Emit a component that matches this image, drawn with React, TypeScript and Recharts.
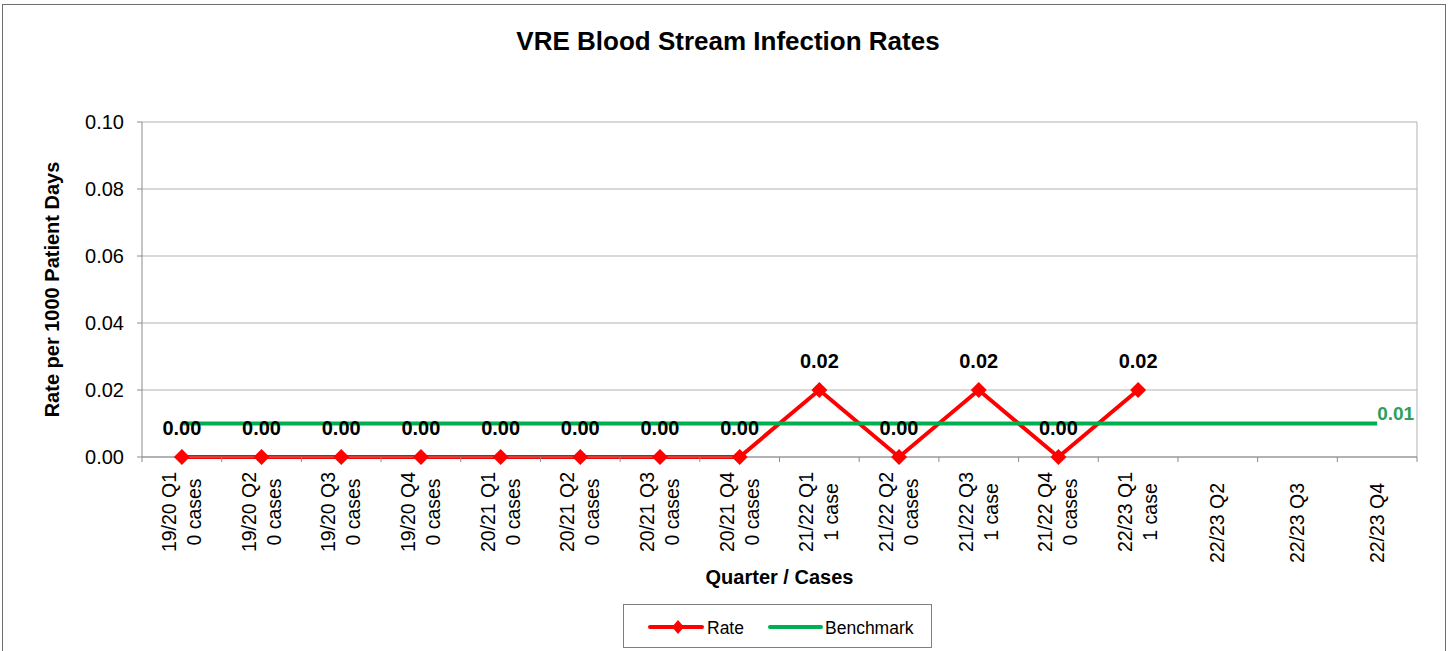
import React from "react";
import { LineChart, Line, XAxis, YAxis, CartesianGrid, Legend, LabelList, Label } from "recharts";

const FONT = '"Liberation Sans", Arial, sans-serif';

const quarters = [
  "19/20 Q1", "19/20 Q2", "19/20 Q3", "19/20 Q4",
  "20/21 Q1", "20/21 Q2", "20/21 Q3", "20/21 Q4",
  "21/22 Q1", "21/22 Q2", "21/22 Q3", "21/22 Q4",
  "22/23 Q1", "22/23 Q2", "22/23 Q3", "22/23 Q4",
];
const caseNotes = [
  "0 cases", "0 cases", "0 cases", "0 cases",
  "0 cases", "0 cases", "0 cases", "0 cases",
  "1 case", "0 cases", "1 case", "0 cases",
  "1 case", "", "", "",
];
const rateValues = [0, 0, 0, 0, 0, 0, 0, 0, 0.02, 0, 0.02, 0, 0.02, null, null, null];
const benchmarkValues = [0.01, 0.01, 0.01, 0.01, 0.01, 0.01, 0.01, 0.01, 0.01, 0.01, 0.01, 0.01, 0.01, 0.01, 0.01, 0.01];
const yTicks = [0, 0.02, 0.04, 0.06, 0.08, 0.1];

const data = quarters.map((q, i) => ({
  quarter: q,
  cases: caseNotes[i],
  rate: rateValues[i],
  benchmark: benchmarkValues[i],
}));

const RED = "#ff0000";
const GREEN = "#00b050";
const AXIS = "#8c8c8c";
const HALF_BAND = (1417 - 142) / quarters.length / 2;

const QuarterTick = (props: any) => {
  const { x, y, payload, index } = props;
  const note = caseNotes[index];
  return (
    <g>
      <line x1={x - HALF_BAND} x2={x - HALF_BAND} y1={y} y2={y + 5} stroke={AXIS} />
      {index === quarters.length - 1 && (
        <line x1={x + HALF_BAND} x2={x + HALF_BAND} y1={y} y2={y + 5} stroke={AXIS} />
      )}
      <text
        transform={`translate(${x},${y + (note ? 55 : 66)}) rotate(-90)`}
        textAnchor="middle"
        fontSize={19.5}
        fill="#000"
        fontFamily={FONT}
      >
        {note ? (
          <>
            <tspan x={0} y={-6}>{payload.value}</tspan>
            <tspan x={0} y={19}>{note}</tspan>
          </>
        ) : (
          <tspan x={0} y={6.5}>{payload.value}</tspan>
        )}
      </text>
    </g>
  );
};

const diamondDot = (props: any) => {
  const { cx, cy, index } = props;
  if (cx == null || cy == null) return <g key={index} />;
  const r = 8;
  return (
    <polygon
      key={index}
      points={`${cx},${cy - r} ${cx + r},${cy} ${cx},${cy + r} ${cx - r},${cy}`}
      fill={RED}
    />
  );
};

const benchmarkLabel = (props: any) => {
  const { x, y, index, value } = props;
  if (index !== quarters.length - 1) return null;
  return (
    <text x={x} y={y - 4} fill="#2e9e5b" fontSize={19} fontWeight="bold" fontFamily={FONT}>
      {Number(value).toFixed(2)}
    </text>
  );
};

const LegendBox = () => (
  <svg width={309} height={44} style={{ display: "block" }}>
    <line x1={26} x2={78} y1={22} y2={22} stroke={RED} strokeWidth={4} strokeLinecap="round" />
    <polygon points="54,15 60,22 54,29 48,22" fill={RED} />
    <text x={83} y={29} fontSize={17.5} fontFamily={FONT} fill="#000">Rate</text>
    <line x1={146} x2={197} y1={22} y2={22} stroke={GREEN} strokeWidth={4} strokeLinecap="round" />
    <text x={201} y={29} fontSize={17.5} fontFamily={FONT} fill="#000">Benchmark</text>
  </svg>
);

export default function App() {
  return (
    <div style={{ position: "absolute", left: 0, top: 0, width: 1450, height: 651, overflow: "hidden", background: "#fff" }}>
      <div
        style={{
          position: "absolute",
          left: 2,
          top: 4,
          width: 1444,
          height: 700,
          border: "1px solid #6e6e6e",
          boxSizing: "border-box",
        }}
      />
      <LineChart
        width={1450}
        height={651}
        data={data}
        margin={{ top: 122, right: 33, bottom: 64, left: 42 }}
        style={{ fontFamily: FONT }}
      >
        <text x={728} y={50} textAnchor="middle" fontSize={26} fontWeight="bold" fontFamily={FONT} fill="#000">
          VRE Blood Stream Infection Rates
        </text>
        <CartesianGrid
          stroke="#b3b3b3"
          verticalCoordinatesGenerator={({ offset }: any) => [offset.left + offset.width]}
        />
        <XAxis
          dataKey="quarter"
          interval={0}
          height={130}
          padding={{ left: HALF_BAND, right: HALF_BAND }}
          tickSize={0}
          tickMargin={0}
          tickLine={false}
          axisLine={{ stroke: AXIS }}
          tick={QuarterTick}
        >
          <Label
            value="Quarter / Cases"
            position="insideBottom"
            offset={3}
            fontSize={20}
            fontWeight="bold"
            fill="#000"
            fontFamily={FONT}
          />
        </XAxis>
        <YAxis
          width={100}
          domain={[0, 0.1]}
          ticks={yTicks}
          tickFormatter={(v: number) => v.toFixed(2)}
          tick={{ fontSize: 20, fill: "#000", fontFamily: FONT }}
          tickSize={5}
          tickMargin={13}
          axisLine={{ stroke: AXIS }}
          tickLine={{ stroke: AXIS }}
        >
          <Label
            value="Rate per 1000 Patient Days"
            angle={-90}
            position="insideLeft"
            offset={10}
            fontSize={20}
            fontWeight="bold"
            fill="#000"
            fontFamily={FONT}
            style={{ textAnchor: "middle" }}
          />
        </YAxis>
        <Line
          dataKey="rate"
          name="Rate"
          type="linear"
          stroke={RED}
          strokeWidth={4}
          dot={diamondDot}
          activeDot={false}
          isAnimationActive={false}
        />
        <Line
          dataKey="benchmark"
          name="Benchmark"
          type="linear"
          stroke={GREEN}
          strokeWidth={4}
          dot={false}
          activeDot={false}
          isAnimationActive={false}
          label={benchmarkLabel}
        />
        <Line
          dataKey="rate"
          stroke="none"
          dot={false}
          activeDot={false}
          legendType="none"
          isAnimationActive={false}
        >
          <LabelList
            dataKey="rate"
            position="top"
            offset={22}
            formatter={(v: any) => (v == null ? "" : Number(v).toFixed(2))}
            fontSize={20}
            fontWeight="bold"
            fill="#000"
            fontFamily={FONT}
          />
        </Line>
        <Legend
          layout="horizontal"
          verticalAlign="middle"
          align="center"
          content={LegendBox}
          wrapperStyle={{
            left: 623,
            top: 604,
            width: 309,
            height: 44,
            border: "1px solid #7f7f7f",
            boxSizing: "border-box",
            background: "#fff",
          }}
        />
      </LineChart>
    </div>
  );
}
